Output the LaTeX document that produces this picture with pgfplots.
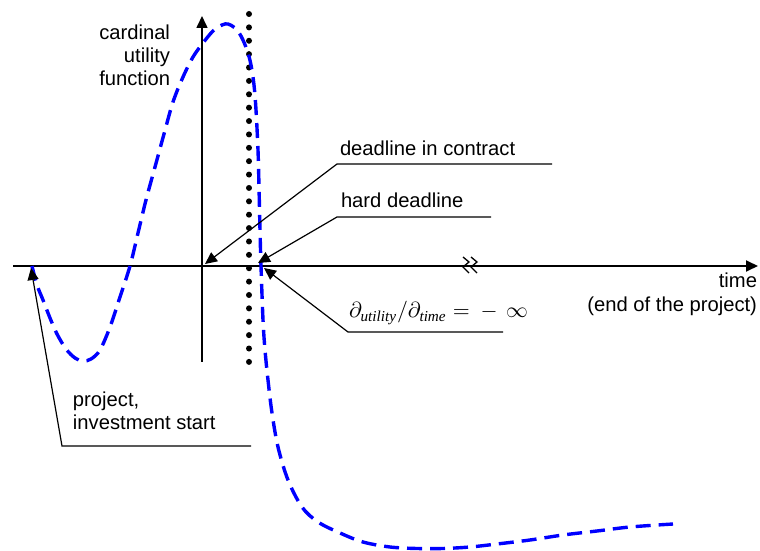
\documentclass[border=0pt]{standalone}
\usepackage{fontspec}
\setmainfont{Liberation Sans}
\newfontfamily\tnr{Liberation Serif}
\usepackage{pgfplots}
\pgfplotsset{compat=1.18}
\usetikzlibrary{arrows.meta}

\definecolor{curveblue}{RGB}{0,0,255}
\tikzset{lab/.style={font=\fontsize{10.1bp}{12bp}\selectfont, inner sep=0pt, outer sep=0pt}}
\newcommand{\sub}[1]{\mbox{\fontsize{7.6bp}{9bp}\tnr\itshape #1}}

\begin{document}
\begin{tikzpicture}
\begin{axis}[
  x=0.5bp, y=0.5bp, y dir=reverse,
  xmin=0, xmax=760, ymin=0, ymax=551,
  hide axis, clip=false, scale only axis,
  tip/.style={-{Triangle[length=6bp,width=5.5bp]}}]

% frame of the picture
\path (axis cs:0,0) rectangle (axis cs:760,551);

% axes of the sketch
\addplot[black, line width=0.9bp, tip] coordinates {(13,266) (758,266)};
\addplot[black, line width=0.8bp, tip] coordinates {(202,362) (202,16)};

% break mark on the time axis
\addplot[black, line width=0.65bp] coordinates {(463,257) (469,262) (463,267) (469,273)};
\addplot[black, line width=0.65bp] coordinates {(471,257) (477,262) (471,267) (477,273)};

% hard deadline (dotted)
\addplot[black, line width=3bp, line cap=round, dash pattern=on 0bp off 6.69bp]
  coordinates {(249,14) (249,362)};

% cardinal utility curve
\addplot[curveblue, line width=1.7bp, smooth, tension=0.55, dash pattern=on 7.5bp off 4bp]
  coordinates {
  (32,266) (37,285) (43,300) (50,318) (57,334) (66,349) (75,358) (83,361)
  (91,359) (100,350) (110,327) (120,297) (130,266) (138,233) (146,200)
  (155,167) (164,134) (173,102) (183,77) (193,57) (203,43) (213,31)
  (222,25) (228,24) (235,28) (241,36) (247,50) (251,65) (254,85) (256,110)
  (258,150) (259,187) (260,230) (261,266) (263,320) (265,350) (268,380)
  (272,413) (278,447) (288,480) (302,507) (318,522) (340,533) (363,542)
  (390,547) (417,548.5) (443,548.5) (470,547) (497,544) (530,540)
  (563,535) (597,531) (630,527) (673,524)};

% leaders
\addplot[black, line width=0.6bp, tip] coordinates {(552,164) (337,164) (205,264)};
\addplot[black, line width=0.6bp, tip] coordinates {(491,217) (337,217) (258,263)};
\addplot[black, line width=0.6bp, tip] coordinates {(503,332) (348,332) (264,268)};
\addplot[black, line width=0.6bp, tip] coordinates {(251,446) (62,446) (31,268)};

% texts
\node[lab, anchor=base east] at (axis cs:170,40) {cardinal};
\node[lab, anchor=base east] at (axis cs:170,63) {utility};
\node[lab, anchor=base east] at (axis cs:170,86) {function};
\node[lab, anchor=base west] at (axis cs:340,156) {deadline in contract};
\node[lab, anchor=base west] at (axis cs:341,208) {hard deadline};
\node[lab, anchor=base east] at (axis cs:757,288) {time};
\node[lab, anchor=base east] at (axis cs:757,312) {(end of the project)};
\node[lab, anchor=base west] at (axis cs:73,407) {project,};
\node[lab, anchor=base west] at (axis cs:73,430) {investment start};
\node[lab, anchor=base west, font=\fontsize{11.2bp}{13bp}\selectfont] at (axis cs:349,318)
  {$\partial_{\sub{utility}}\big/\partial_{\sub{time}}={}-\,\infty$};
\end{axis}
\end{tikzpicture}
\end{document}
